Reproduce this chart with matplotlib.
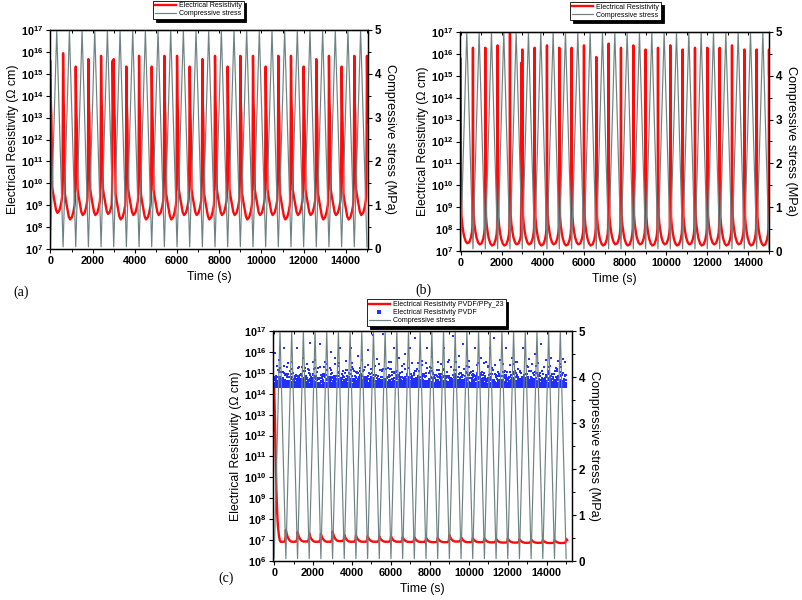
import numpy as np
import matplotlib
matplotlib.use("Agg")
import matplotlib.pyplot as plt
from matplotlib.ticker import FixedLocator, MultipleLocator, FuncFormatter, NullFormatter, NullLocator

plt.rcParams['font.family'] = ['Liberation Sans', 'DejaVu Sans']
plt.rcParams['mathtext.fontset'] = 'custom'
plt.rcParams['mathtext.rm'] = 'Liberation Sans:bold'
plt.rcParams['mathtext.bf'] = 'Liberation Sans:bold'
plt.rcParams['mathtext.it'] = 'Liberation Sans:bold'

# ---------------- data ----------------
cycle_period = 600  # s
spike_times = [600 * k for k in range(26)]          # resistivity spikes / stress minima
stress_min = [0.05] * 26                            # MPa at t = 600k
stress_max = [5.0] * 25                             # MPa at t = 600k + 300

# panel (a): log10 peak resistivity of each spike, log10 minimum of each cycle
a_peak_log = [15.56, 15.94, 15.33, 15.67, 15.82, 15.67, 15.33, 15.82, 15.33, 15.82,
              15.82, 15.33, 15.67, 15.82, 15.33, 15.82, 15.82, 15.33, 15.82, 15.82,
              15.33, 15.67, 15.82, 15.33, 15.82, 15.82]
a_base_log = [8.65, 8.35, 8.55, 8.55, 8.6, 8.35, 8.55, 8.35, 8.55, 8.35,
              8.55, 8.55, 8.35, 8.55, 8.55, 8.35, 8.55, 8.55, 8.35, 8.55,
              8.55, 8.35, 8.55, 8.35, 8.55, 8.55]
a_extra_spikes = [(2950, 15.6)]

# panel (b)
b_peak_log = [15.78, 16.28, 16.28, 16.39, 17.2, 16.2, 16.28, 16.39, 16.28, 16.28,
              16.39, 15.86, 16.47, 16.28, 16.39, 16.2, 16.28, 16.39, 16.2, 16.28,
              16.28, 16.28, 16.39, 16.2, 16.2, 16.2]
b_base_log = [7.35, 7.3, 7.25, 7.25, 7.3, 7.3, 7.25, 7.3, 7.25, 7.3,
              7.25, 7.25, 7.3, 7.25, 7.3, 7.25, 7.3, 7.25, 7.3, 7.25,
              7.3, 7.25, 7.3, 7.25, 7.25, 7.25]
b_extra_spikes = [(2960, 15.6)]

# panel (c) PVDF/PPy_23: initial decay, then small bumps
c_start_t = [0, 30, 60, 100, 140, 180, 230, 280, 330]
c_start_log = [14.3, 13.3, 11.8, 9.8, 8.6, 7.8, 7.3, 7.0, 6.92]
c_bump_log = [7.0, 7.49, 7.38, 7.33, 7.30, 7.41, 7.26, 7.22, 7.19, 7.18,
              7.18, 7.14, 7.14, 7.11, 7.11, 7.24, 7.14, 7.10, 7.08, 7.06,
              7.08, 7.05, 7.03, 7.00, 7.00, 7.06]
c_base_log = [6.92, 6.92, 6.93, 6.92, 6.92, 6.95, 6.92, 6.92, 6.92, 6.92,
              6.92, 6.91, 6.91, 6.90, 6.90, 6.93, 6.90, 6.90, 6.89, 6.88,
              6.88, 6.87, 6.87, 6.86, 6.86, 6.90]

# panel (c) PVDF: dense band just above the 2.1e14 floor (log offsets), plus sparse high points
pvdf_floor_log = 14.33
pvdf_band_A = [0, 0.12, 0, 0.31, 0.05, 0.22, 0, 0.45, 0.09, 0.18, 0, 0.36, 0.02, 0.27,
               0.6, 0, 0.14, 0.07, 0.4, 0, 0.21, 0.83, 0.03, 0.16, 0, 0.29, 0.11, 0.52,
               0, 0.08, 0.24, 0.01, 0.38, 0, 0.19, 0.66, 0.04, 0.13, 0, 0.33, 0.06,
               0.25, 0, 0.47, 0.1, 0.2, 0, 0.72, 0.15, 0.02, 0.35, 0, 0.26, 0.09, 0.57,
               0, 0.17, 0.04, 0.42, 0.11, 0, 0.9, 0.3, 0, 0.5, 0.13, 0.05, 0.22, 0,
               0.39, 0.08, 0.69, 0.01, 0.18, 0]
pvdf_band_scale = [1.0, 0.83, 1.17, 0.64, 0.95, 1.28, 0.71, 1.06, 0.88, 1.21, 0.58,
                   0.99, 1.12, 0.76, 1.34, 0.91, 0.67, 1.09, 0.8, 1.25, 0.62, 1.03,
                   0.86, 1.15, 0.73, 0.97, 1.31, 0.69, 1.08, 0.84, 1.19, 0.6, 0.93,
                   1.24, 0.78, 1.01, 0.66, 1.13, 0.89, 1.27, 0.74, 1.05, 0.82]
pvdf_sparse_t = [60, 250, 520, 900, 1150, 1500, 1700, 1850, 2100, 2380, 2600, 2900,
                 3150, 3400, 3700, 3950, 4300, 4500, 4800, 5100, 5300, 5600, 5900,
                 6150, 6400, 6700, 7000, 7250, 7600, 7850, 8100, 8400, 8700, 9000,
                 9200, 9500, 9700, 10000, 10300, 10600, 10900, 11100, 11300, 11600,
                 11900, 12200, 12500, 12800, 13100, 13400, 13700, 13950, 14200, 14600, 14850,
                 150, 700, 1300, 2000, 2700, 3300, 4000, 4650, 5400, 6000, 6550, 7400,
                 8000, 8550, 9350, 9900, 10450, 11000, 11750, 12350, 13000, 13550, 14100,
                 14700]
pvdf_sparse_log = [15.95, 15.6, 16.2, 15.5, 16.2, 15.7, 15.4, 16.45, 15.6, 16.4, 15.5,
                   16.0, 15.7, 16.2, 15.55, 16.2, 15.8, 15.6, 16.1, 16.8, 15.65, 16.85,
                   15.5, 16.2, 15.7, 15.9, 16.2, 16.65, 15.55, 16.2, 15.75, 15.5, 16.2,
                   15.6, 16.75, 15.8, 16.4, 15.55, 16.2, 15.7, 15.5, 16.2, 16.65, 15.6,
                   16.2, 15.7, 15.5, 16.2, 15.65, 15.9, 16.4, 15.6, 15.7, 15.55, 15.65,
                   15.35, 15.45, 15.3, 15.5, 15.4, 15.35, 15.45, 15.3, 15.4, 15.5, 15.35,
                   15.45, 15.3, 15.4, 15.5, 15.35, 15.45, 15.3, 15.4, 15.5, 15.35, 15.45,
                   15.3, 15.4]

# ---------------- helpers ----------------
RED = '#FF0A0A'
GRAY = '#6F8282'
BLUE = '#2030FF'

t = np.arange(0, 15051, 2.0)

stress_t = []
stress_v = []
for k in range(25):
    stress_t += [spike_times[k], spike_times[k] + cycle_period / 2]
    stress_v += [stress_min[k], stress_max[k]]
stress_t.append(spike_times[25]); stress_v.append(stress_min[25])


def build(peaks, bases, extra, bg_s, bg_d, sp_s, sp_f):
    k0 = np.clip((t // cycle_period).astype(int), 0, len(bases) - 1)
    ph = t - k0 * cycle_period
    bg = np.array(bases)[k0] + np.interp(ph, bg_s, bg_d)
    out = bg.copy()
    spk = list(zip(spike_times, peaks)) + list(extra)
    for ts, p in spk:
        f = np.interp(t - ts, sp_s, sp_f, left=0, right=0)
        out = np.maximum(out, bg + f * (p - bg))
    return 10 ** out


a_rho = build(a_peak_log, a_base_log, a_extra_spikes,
              [0, 40, 70, 110, 180, 260, 330, 420, 480, 540, 575, 600],
              [1.6, 1.5, 1.3, 1.0, 0.6, 0.15, 0.0, 0.1, 0.3, 0.6, 1.0, 1.6],
              [-45, -28, -12, 0, 10, 25, 45, 62, 85],
              [0, 0.08, 0.45, 1.0, 0.8, 0.62, 0.55, 0.3, 0])
b_rho = build(b_peak_log, b_base_log, b_extra_spikes,
              [0, 30, 60, 100, 160, 240, 320, 420, 500, 550, 580, 600],
              [1.9, 1.4, 1.0, 0.7, 0.35, 0.1, 0.0, 0.05, 0.25, 0.5, 0.9, 1.9],
              [-28, -12, -5, 0, 5, 12, 30],
              [0, 0.2, 0.6, 1.0, 0.6, 0.22, 0])

# panel (c) red
kc = np.clip((t // cycle_period).astype(int), 0, len(c_base_log) - 1)
c_bg = np.array(c_base_log)[kc]
c_log = c_bg.copy()
for ts, p in zip(spike_times[1:], c_bump_log[1:]):
    f = np.interp(t - ts, [-80, -40, -15, 0, 30, 80, 150, 230, 300],
                  [0, 0.1, 0.4, 1, 0.75, 0.45, 0.2, 0.05, 0], left=0, right=0)
    c_log = np.maximum(c_log, c_bg + f * (p - c_bg))
early = t <= c_start_t[-1]
c_log[early] = np.interp(t[early], c_start_t, c_start_log)
c_rho = 10 ** c_log

band_t = np.arange(0, 15000, 5.0)
idx = np.arange(len(band_t))
band_off = (np.array(pvdf_band_A)[idx % len(pvdf_band_A)] *
            np.array(pvdf_band_scale)[(idx * 3) % len(pvdf_band_scale)])
band_val = 10 ** (pvdf_floor_log + band_off)
sparse_val = 10 ** np.array(pvdf_sparse_log)

# ---------------- figure ----------------
fig = plt.figure(figsize=(8.03, 6.0), dpi=100)
TICKFS = 7.8
LABFS = 8.8


def log_fmt(v, pos):
    e = int(round(np.log10(v)))
    return r'$\mathbf{10^{%d}}$' % e


def style(ax, ax2, ylo, yhi, xlim):
    ax.set_yscale('log')
    ax.set_ylim(10.0 ** ylo, 10.0 ** yhi)
    ax.set_xlim(*xlim)
    ax.yaxis.set_major_locator(FixedLocator([10.0 ** e for e in range(ylo, yhi + 1)]))
    ax.yaxis.set_minor_locator(NullLocator())
    ax.yaxis.set_major_formatter(FuncFormatter(log_fmt))
    ax.xaxis.set_major_locator(MultipleLocator(2000))
    ax.xaxis.set_minor_locator(MultipleLocator(1000))
    ax.tick_params(axis='both', which='major', direction='out', length=3.2, width=0.8,
                   labelsize=TICKFS, pad=1.5)
    ax.tick_params(axis='both', which='minor', direction='out', length=1.8, width=0.7)
    for lab in ax.get_xticklabels():
        lab.set_fontweight('bold')
    ax.set_xlabel('Time (s)', fontsize=LABFS, labelpad=4)
    ax.set_ylabel('Electrical Resistivity (\u03A9 cm)', fontsize=LABFS, labelpad=1)
    top = ax.secondary_xaxis('top')
    top.xaxis.set_major_locator(MultipleLocator(1000))
    top.xaxis.set_major_formatter(NullFormatter())
    top.tick_params(direction='in', length=2.0, width=0.7)
    ax2.set_ylim(0, 5)
    ax2.yaxis.set_major_locator(MultipleLocator(1))
    ax2.yaxis.set_minor_locator(MultipleLocator(0.5))
    ax2.tick_params(axis='y', which='major', direction='out', length=3.2, width=0.8,
                    labelsize=TICKFS + 0.6, pad=1.5)
    ax2.tick_params(axis='y', which='minor', direction='out', length=1.8, width=0.7)
    for lab in ax2.get_yticklabels():
        lab.set_fontweight('bold')
    ax2.set_ylabel('Compressive stress (MPa)', fontsize=LABFS + 0.4, rotation=270,
                   labelpad=11)
    for a in (ax, ax2):
        for sp in a.spines.values():
            sp.set_linewidth(0.9)


def legend(ax, ax2, anchor):
    h1, l1 = ax.get_legend_handles_labels()
    h2, l2 = ax2.get_legend_handles_labels()
    leg = fig.legend(h1 + h2, l1 + l2, loc='lower center', bbox_to_anchor=anchor,
                     bbox_transform=fig.transFigure, fontsize=5.0, frameon=True,
                     fancybox=False, shadow={'color': 'black', 'alpha': 1.0},
                     edgecolor='black', framealpha=1, handlelength=3.0,
                     handletextpad=0.5, borderpad=0.25, labelspacing=0.15,
                     borderaxespad=0, markerscale=1.5)
    leg.get_frame().set_linewidth(0.6)
    return leg


# panel (a)
ax_a = fig.add_axes([50 / 803, 1 - 249 / 600, 318 / 803, 219 / 600])
ax_a2 = ax_a.twinx()
ax_a.plot(t, a_rho, color=RED, lw=1.7, label='Electrical Resistivity')
ax_a2.plot(stress_t, stress_v, color=GRAY, lw=0.85, label='Compressive stress')
style(ax_a, ax_a2, 7, 17, (-20, 15050))
legend(ax_a, ax_a2, (0.247, 0.968))

# panel (b)
ax_b = fig.add_axes([460 / 803, 1 - 251 / 600, 309 / 803, 219 / 600])
ax_b2 = ax_b.twinx()
ax_b.plot(t, b_rho, color=RED, lw=1.7, label='Electrical Resistivity')
ax_b2.plot(stress_t, stress_v, color=GRAY, lw=0.85, label='Compressive stress')
style(ax_b, ax_b2, 7, 17, (-30, 15000))
legend(ax_b, ax_b2, (0.7665, 0.966))

# panel (c)
ax_c = fig.add_axes([273 / 803, 1 - 561 / 600, 299 / 803, 230 / 600])
ax_c2 = ax_c.twinx()
ax_c.plot(t, c_rho, color=RED, lw=1.7, label='Electrical Resistivity PVDF/PPy_23')
ax_c.plot(np.concatenate([band_t, pvdf_sparse_t]),
          np.concatenate([band_val, sparse_val]), ls='none', marker='s', ms=1.6,
          mew=0, color=BLUE, label='Electrical Resistivity PVDF')
ax_c2.plot(stress_t, stress_v, color=GRAY, lw=0.85, label='Compressive stress')
style(ax_c, ax_c2, 6, 17, (-60, 15300))
legend(ax_c, ax_c2, (0.5436, 0.4567))

fig.text(13 / 803, 1 - 292 / 600, '(a)', fontsize=10, family='Liberation Serif',
         va='center', ha='left')
fig.text(415 / 803, 1 - 290 / 600, '(b)', fontsize=10, family='Liberation Serif',
         va='center', ha='left')
fig.text(218 / 803, 1 - 578 / 600, '(c)', fontsize=10, family='Liberation Serif',
         va='center', ha='left')

fig.savefig('out.png', dpi=100, facecolor='white')
